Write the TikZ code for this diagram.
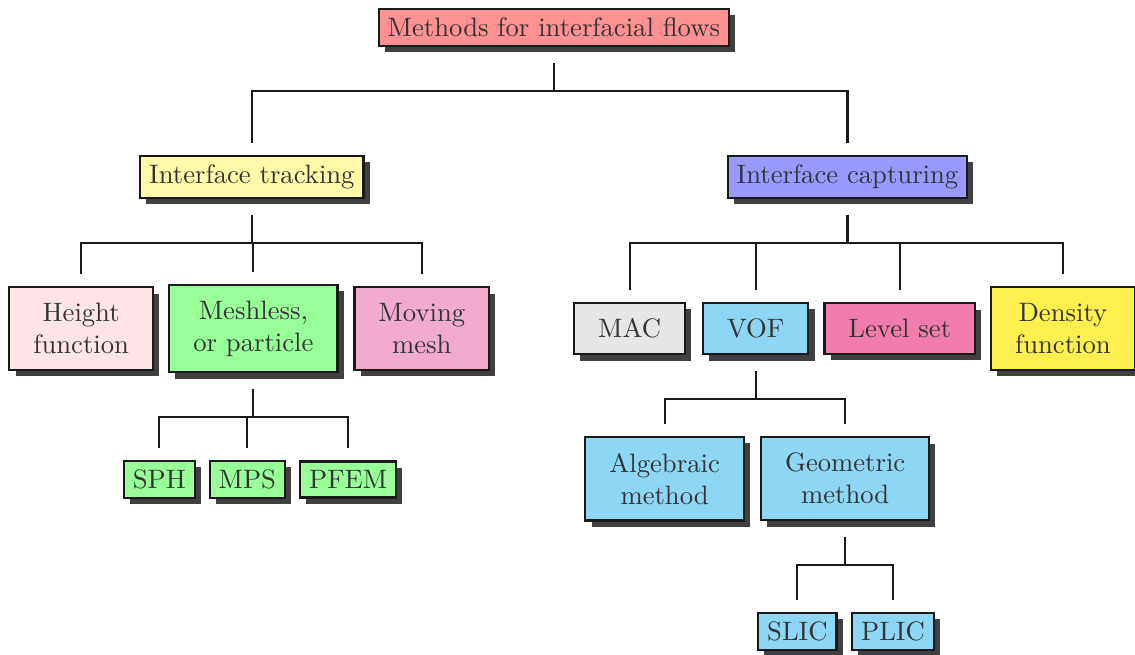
\documentclass[tikz,border=0pt]{standalone}
\usepackage{tikz}
\usetikzlibrary{shadows}

\definecolor{rootred}{RGB}{255,145,145}
\definecolor{trackyellow}{RGB}{255,250,170}
\definecolor{captureblue}{RGB}{153,153,255}
\definecolor{heightpink}{RGB}{255,228,232}
\definecolor{meshgreen}{RGB}{153,255,153}
\definecolor{movepink}{RGB}{242,170,206}
\definecolor{macgray}{RGB}{230,230,230}
\definecolor{vofblue}{RGB}{142,214,245}
\definecolor{levelpink}{RGB}{240,125,172}
\definecolor{densyellow}{RGB}{255,240,80}

\tikzset{
    box/.style={draw=black!90, line width=0.8pt, text=black!80,
        drop shadow={shadow xshift=2.3pt, shadow yshift=-2.4pt, fill=black!75, opacity=1}},
    bigbox/.style={box, inner xsep=9pt, inner ysep=6pt, align=center},
    branch/.style={line width=0.8pt, draw=black!90, shorten <=6pt, shorten >=4.5pt}
}

\begin{document}
\begin{tikzpicture}
    \useasboundingbox (0,0) rectangle (14.96,8.62);

    % Top level
    \node[box, fill=rootred] (root) at (7.30,8.26) {Methods for interfacial flows};
    \node[box, fill=trackyellow] (track) at (3.32,6.29) {Interface tracking\ };
    \node[box, fill=captureblue] (capt) at (11.17,6.29) {Interface capturing\ };

    % Tracking methods
    \node[bigbox, fill=heightpink] (height) at (1.07,4.29) {Height\\function};
    \node[bigbox, fill=meshgreen] (mesh) at (3.34,4.29) {Meshless,\\or particle};
    \node[bigbox, fill=movepink] (moving) at (5.56,4.29) {Moving\\mesh};

    % Particle methods
    \node[box, fill=meshgreen] (sph) at (2.10,2.30) {SPH};
    \node[box, fill=meshgreen] (mps) at (3.26,2.30) {MPS};
    \node[box, fill=meshgreen] (pfem) at (4.59,2.30) {PFEM};

    % Capturing methods
    \node[bigbox, fill=macgray] (mac) at (8.30,4.29) {MAC};
    \node[bigbox, fill=vofblue] (vof) at (9.96,4.29) {VOF};
    \node[bigbox, fill=levelpink] (level) at (11.86,4.29) {Level set};
    \node[bigbox, fill=densyellow] (dens) at (14.01,4.29) {Density\\function};

    % VOF methods
    \node[bigbox, fill=vofblue] (alg) at (8.76,2.31) {Algebraic\\method};
    \node[bigbox, fill=vofblue] (geom) at (11.14,2.31) {Geometric\\method};
    \node[box, fill=vofblue] (slic) at (10.51,0.30) {SLIC};
    \node[box, fill=vofblue] (plic) at (11.77,0.30) {PLIC};

    % Tree branches
    \foreach \child in {track, capt}
        \draw[branch] (root.south) -- ++(0,-0.58) -| (\child.north);
    \foreach \child in {height, mesh, moving}
        \draw[branch] (track.south) -- ++(0,-0.58) -| (\child.north);
    \foreach \child in {sph, mps, pfem}
        \draw[branch] (mesh.south) -- ++(0,-0.58) -| (\child.north);
    \foreach \child in {mac, vof, level, dens}
        \draw[branch] (capt.south) -- ++(0,-0.58) -| (\child.north);
    \foreach \child in {alg, geom}
        \draw[branch] (vof.south) -- ++(0,-0.58) -| (\child.north);
    \foreach \child in {slic, plic}
        \draw[branch] (geom.south) -- ++(0,-0.58) -| (\child.north);

\end{tikzpicture}
\end{document}
